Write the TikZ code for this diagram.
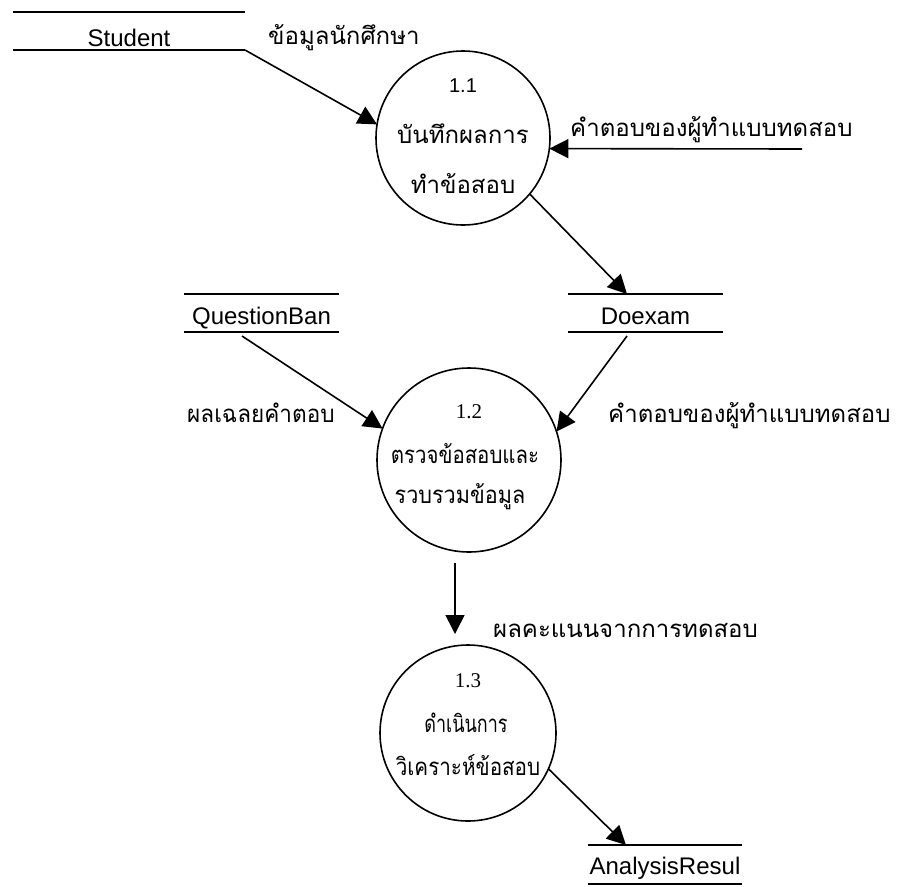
\documentclass[tikz,border=0pt]{standalone}
\usepackage{fontspec}
\usepackage{graphicx}
\setmainfont{Liberation Serif}
\newfontfamily\sansf{Liberation Sans}
\newfontfamily\thaif[Script=Thai]{Loma}
\usetikzlibrary{arrows.meta,calc}
\newcommand{\sq}[2]{\scalebox{#1}[1]{#2}}
\begin{document}
\begin{tikzpicture}[x=1pt,y=-1pt,
  sline/.style={line width=1.6pt},
  flow/.style={line width=1.6pt,-{Triangle[length=19pt,width=19pt]}},
  proc/.style={circle,draw,line width=1.6pt,inner sep=0pt,outer sep=0pt},
  store/.style={rectangle,inner sep=0pt,outer sep=0pt,font=\sansf\fontsize{24}{24}\selectfont,text height=22pt,text depth=0pt,
    append after command={\pgfextra{\let\tn\tikzlastnode}
      (\tn.north west) edge[sline] (\tn.north east)
      (\tn.south west) edge[sline] (\tn.south east)}},
  thai/.style={font=\thaif\fontsize{24}{24}\selectfont,inner sep=0pt},
  numsans/.style={font=\sansf\fontsize{20}{20}\selectfont,inner sep=0pt},
  numserif/.style={font=\fontsize{21}{21}\selectfont,inner sep=0pt}
]
\useasboundingbox (0,0) rectangle (901,886);
\fill[white] (0,0) rectangle (901,886);

% data stores
\node[store,minimum width=232pt,minimum height=38pt,text height=30pt] (st) at (129,31) {Student};
\node[store,minimum width=155pt,minimum height=38pt] (qb) at (261.5,313) {QuestionBan};
\node[store,minimum width=155pt,minimum height=38pt] (de) at (645.5,313) {Doexam};
\node[store,minimum width=154pt,minimum height=39pt,text height=19pt] (ar) at (665,864.5) {AnalysisResul};

% processes
\node[proc,minimum size=174pt] (c11) at (463,138) {};
\node[proc,minimum size=184pt] (c12) at (469,460) {};
\node[proc,minimum size=176pt] (c13) at (468,733) {};

\node[numsans,anchor=base] (n11) at ($(c11.center)+(0,-46)$) {1.1};
\node[thai,anchor=base] (t11a) at ($(c11.center)+(0,5)$) {บันทึกผลการ};
\node[thai,anchor=base] (t11b) at ($(c11.center)+(0,55)$) {ทำข้อสอบ};

\node[numserif,anchor=base] (n12) at ($(c12.center)+(0,-42)$) {1.2};
\node[thai,anchor=base] (t12a) at ($(c12.center)+(-4,3)$) {\sq{0.85}{ตรวจข้อสอบและ}};
\node[thai,anchor=base] (t12b) at ($(c12.center)+(-9,43)$) {\sq{0.9}{รวบรวมข้อมูล}};

\node[numserif,anchor=base] (n13) at ($(c13.center)+(0,-46)$) {1.3};
\node[thai,anchor=base] (t13a) at ($(c13.center)+(-2,-1)$) {\sq{0.75}{ดำเนินการ}};
\node[thai,anchor=base] (t13b) at ($(c13.center)+(0,42)$) {\sq{0.86}{วิเคราะห์ข้อสอบ}};

% flow labels
\node[thai,anchor=base west] (l1) at (268,44) {ข้อมูลนักศึกษา};
\node[thai,anchor=base west] (l2) at (570,136) {คำตอบของผู้ทำแบบทดสอบ};
\node[thai,anchor=base west] (l3) at (187,422) {\sq{0.94}{ผลเฉลยคำตอบ}};
\node[thai,anchor=base west] (l4) at (608,422) {คำตอบของผู้ทำแบบทดสอบ};
\node[thai,anchor=base west] (l5) at (493,637) {ผลคะแนนจากการทดสอบ};

% flows
\coordinate (in1) at (802,149);
\draw[flow] (st.south east) -- (c11.171);
\draw[flow] (in1) -- (c11.-7);
\draw[flow] (c11.-40) -- ($(de.north west)+(59,0)$);
\draw[flow] ($(qb.south west)+(58,4)$) -- (c12.160);
\draw[flow] ($(de.south west)+(59,4)$) -- (c12.18);
\draw[flow] ($(c12.south)+(-14,11)$) -- ($(c13.north)+(-13,-11)$);
\draw[flow] (c13.-24) -- ($(ar.north west)+(38,0)$);
\end{tikzpicture}
\end{document}
